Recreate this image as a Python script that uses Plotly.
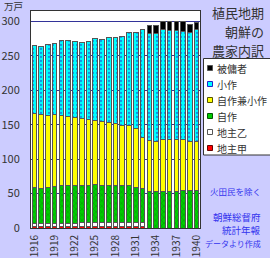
import plotly.graph_objects as go

years = list(range(1916, 1941))
jinushi_kou = [1.5]*7 + [2.2]*10 + [0]*8
jinushi_otsu = [5.3]*17 + [0]*8
jisaku = [52.2, 51.2, 52.2, 54.1, 54.6, 54.6, 55.6, 53.9, 53.9, 56.3, 53.9, 53.9, 53.9,
          53.9, 53.5, 51.9, 50.5, 53.1, 53.1, 53.1, 53.1, 53.1, 54.6, 54.6, 54.6]
jisaku_kosaku = [107.2, 107.0, 104.8, 104.0, 101.6, 100.4, 98.4, 97.1, 95.4, 91.9, 92.6, 91.2, 90.1,
                 87.8, 87.8, 85.0, 73.3, 74.3, 72.4, 74.7, 74.7, 75.3, 73.2, 70.9, 70.9]
kosaku = [98.3, 99.0, 102.0, 102.4, 109.5, 110.7, 110.0, 111.3, 114.4, 119.3, 119.0, 123.6, 125.5,
          129.2, 135.2, 139.6, 156.2, 154.3, 156.2, 159.7, 158.7, 158.1, 157.2, 158.5, 162.0]
hiyosha = [0]*17 + [12.3, 12.3, 12.1, 13.1, 13.1, 14.6, 12.0, 10.4]

series_names = ["地主甲", "地主乙", "自作", "自作兼小作", "小作", "被傭者"]
series_vals = [jinushi_kou, jinushi_otsu, jisaku, jisaku_kosaku, kosaku, hiyosha]
colors = ["#FF0000", "#FFFFFF", "#00CC00", "#FFFF00", "#00FFFF", "#000000"]
patterns = [None, None, dict(shape="x", fgcolor="#006600", size=4, solidity=0.25), None,
            dict(shape=".", fgcolor="#2222CC", size=4, solidity=0.25), None]

title_lines = ["植民地期", "朝鮮の", "農家内訳"]
note_lines = ["火田民を除く", "朝鮮総督府", "統計年報", "データより作成"]
ytick_vals = [0, 50, 100, 150, 200, 250, 300]
xtick_vals = years[::3]

W, H = 270, 258
L, R, T, B = 31, 70, 11, 30
pw, ph = W - L - R, H - T - B

def px(x):
    return (x - L) / pw

def py(y):
    return (H - B - y) / ph

fig = go.Figure()
for name, vals, c, pat in zip(series_names, series_vals, colors, patterns):
    marker = dict(color=c, line=dict(color="#555555", width=1))
    if pat:
        marker["pattern"] = pat
    fig.add_trace(go.Bar(x=years, y=vals, name=name, marker=marker, showlegend=False))

font_jp = "Noto Sans CJK JP"
fig.update_layout(
    width=W, height=H, barmode="stack", bargap=0.32,
    margin=dict(l=L, r=R, t=T, b=B, autoexpand=False),
    paper_bgcolor="#CCCCFF", plot_bgcolor="#FFFFFF",
    font=dict(family=font_jp, size=10, color="#333333"),
    xaxis=dict(range=[1915.5, 1940.5], tickvals=xtick_vals, tickangle=-90,
               showgrid=False, showline=True, linecolor="#333333", linewidth=1, mirror=True,
               ticks="", tickfont=dict(size=10, color="#333333"), ticklabelstandoff=2),
    yaxis=dict(range=[0, 315], tickvals=ytick_vals, showgrid=True, gridcolor="#333399", gridwidth=1,
               showline=True, linecolor="#333333", linewidth=1, mirror=True, zeroline=False,
               ticks="", tickfont=dict(size=11, color="#333333"), ticklabelstandoff=8),
)

annotations = []
annotations.append(dict(x=px(2), y=py(6.5), xref="paper", yref="paper", text="万戸",
                        showarrow=False, xanchor="left", yanchor="middle",
                        font=dict(size=9.5, color="#333333", family=font_jp)))
for i, t in enumerate(title_lines):
    annotations.append(dict(x=px(266), y=py(13 + 18.5 * i), xref="paper", yref="paper", text=t,
                            showarrow=False, xanchor="right", yanchor="middle",
                            font=dict(size=13, color="#333333", family=font_jp)))
note_y = [191, 217, 230, 243]
note_size = [8.5, 9.5, 9.5, 8]
for t, yy, fs in zip(note_lines, note_y, note_size):
    annotations.append(dict(x=px(263), y=py(yy), xref="paper", yref="paper", text=t,
                            showarrow=False, xanchor="right", yanchor="middle",
                            font=dict(size=fs, color="#3333EE", family=font_jp)))

shapes = []
# legend box
shapes.append(dict(type="rect", xref="paper", yref="paper", x0=px(203.5), x1=px(272),
                   y0=py(155), y1=py(58.5), fillcolor="#FFFFFF", line=dict(color="#333333", width=1)))
legend_order = list(range(len(series_names)))[::-1]
icon_border = ["#660000", "#555555", "#005500", "#555500", "#2222CC", "#555555"]
for k, idx in enumerate(legend_order):
    yc = 68 + 16 * k
    shapes.append(dict(type="rect", xref="paper", yref="paper", x0=px(207.5), x1=px(212.5),
                       y0=py(yc + 2.5), y1=py(yc - 2.5), fillcolor=colors[idx],
                       line=dict(color=icon_border[idx], width=1)))
    annotations.append(dict(x=px(214.5), y=py(yc), xref="paper", yref="paper", text=series_names[idx],
                            showarrow=False, xanchor="left", yanchor="middle",
                            font=dict(size=10, color="#333333", family=font_jp)))

fig.update_layout(annotations=annotations, shapes=shapes)
fig.write_html("out.html")
